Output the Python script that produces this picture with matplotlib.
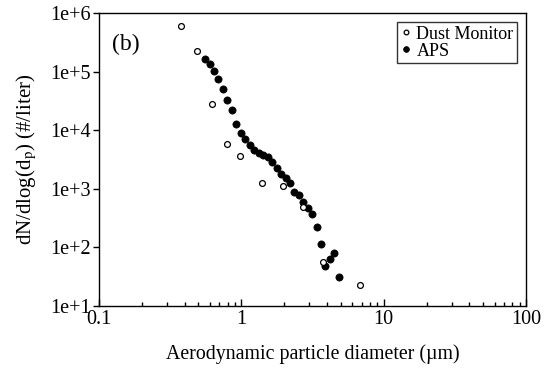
import matplotlib
matplotlib.use("Agg")
import matplotlib.pyplot as plt
from matplotlib import ticker

plt.rcParams['font.family'] = ['Liberation Serif', 'DejaVu Serif']
plt.rcParams['mathtext.fontset'] = 'stix'

# Dust Monitor (open circles)
dm_d = [0.377, 0.488, 0.622, 0.794, 0.979, 1.40, 1.96, 2.71, 3.75, 6.82]
dm_n = [6.0e5, 2.25e5, 2.8e4, 5.8e3, 3.6e3, 1.26e3, 1.12e3, 489, 56.4, 22.8]

# APS (filled circles)
aps_d = [0.556, 0.603, 0.643, 0.686, 0.744, 0.793, 0.860, 0.918, 0.995, 1.062,
         1.151, 1.228, 1.331, 1.421, 1.540, 1.643, 1.781, 1.901, 2.062, 2.199,
         2.347, 2.544, 2.714, 2.942, 3.139, 3.404, 3.632, 3.875, 4.201, 4.481, 4.860]
aps_n = [1.64e5, 1.35e5, 1.02e5, 7.48e4, 5.05e4, 3.28e4, 2.21e4, 1.28e4, 8.96e3, 7.08e3,
         5.59e3, 4.59e3, 4.08e3, 3.77e3, 3.49e3, 2.87e3, 2.26e3, 1.79e3, 1.53e3, 1.26e3,
         881, 783, 595, 470, 372, 223, 114, 48.2, 63.4, 80.2, 31.3]

y_ticks = [1e1, 1e2, 1e3, 1e4, 1e5, 1e6]
y_tick_labels = ["1e+1", "1e+2", "1e+3", "1e+4", "1e+5", "1e+6"]
x_ticks = [0.1, 1, 10, 100]
x_tick_labels = ["0.1", "1", "10", "100"]

fig = plt.figure(figsize=(5.49, 3.71), dpi=100)
ax = fig.add_axes([0.1803, 0.1752, 0.778, 0.790])

ax.plot(dm_d, dm_n, linestyle='none', marker='o', markersize=4.2,
        markerfacecolor='white', markeredgecolor='black', markeredgewidth=0.9,
        label='Dust Monitor', zorder=3)
ax.plot(aps_d, aps_n, linestyle='none', marker='o', markersize=5.2,
        markerfacecolor='black', markeredgecolor='black', markeredgewidth=0.5,
        label='APS', zorder=2)

ax.set_xscale('log')
ax.set_yscale('log')
ax.set_xlim(0.1, 100)
ax.set_ylim(1e1, 1e6)

ax.set_yticks(y_ticks)
ax.set_yticklabels(y_tick_labels)
ax.yaxis.set_minor_locator(ticker.NullLocator())
ax.set_xticks(x_ticks)
ax.set_xticklabels(x_tick_labels)
ax.xaxis.set_minor_locator(ticker.LogLocator(base=10, subs=range(2, 10)))
ax.xaxis.set_minor_formatter(ticker.NullFormatter())

ax.tick_params(axis='y', which='major', direction='out', length=4, width=1,
               labelsize=14.5, pad=2)
ax.tick_params(axis='x', which='major', direction='in', length=5, width=1,
               labelsize=14.5, pad=3)
ax.tick_params(axis='x', which='minor', direction='in', length=3, width=1)

for s in ax.spines.values():
    s.set_linewidth(1.0)

ax.set_xlabel('Aerodynamic particle diameter (µm)', fontsize=14.3, labelpad=11)
ax.set_ylabel(r'dN/dlog(d$_\mathrm{p}$) (#/liter)', fontsize=15, labelpad=8)

ax.text(0.03, 0.93, '(b)', transform=ax.transAxes, fontsize=17,
        ha='left', va='top')

leg = ax.legend(loc='upper right', fontsize=13, frameon=True, fancybox=False,
                edgecolor='black', borderpad=0.2, handlelength=0.5,
                handletextpad=0.35, labelspacing=0.0, borderaxespad=0.5,
                markerscale=0.8)
leg.get_frame().set_linewidth(1.0)

fig.savefig('out.png', dpi=100)
